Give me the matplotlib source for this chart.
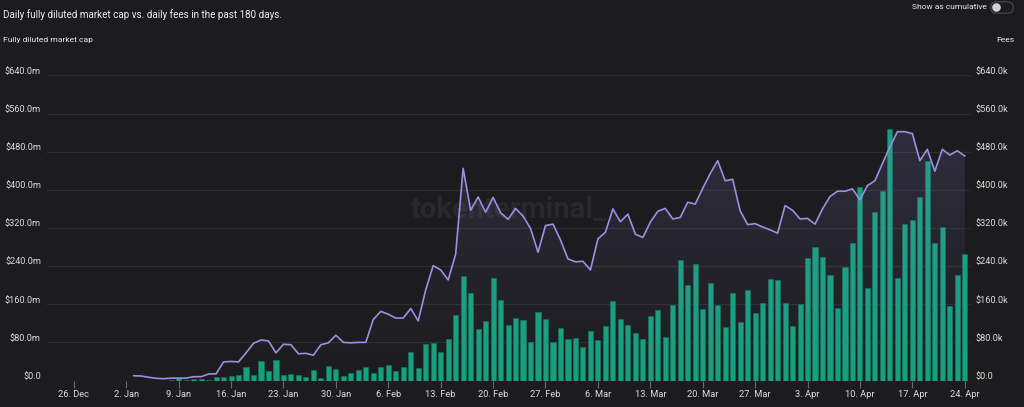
import numpy as np
import pandas as pd
import matplotlib
matplotlib.use("Agg")
import matplotlib.pyplot as plt
import matplotlib.dates as mdates
from matplotlib.patches import FancyBboxPatch, Circle
from matplotlib.transforms import ScaledTranslation

plt.rcParams['font.family'] = ['Roboto', 'DejaVu Sans']

## Data: daily values, 3 Jan 2023 -> 24 Apr 2023
start_date = '2023-01-03'
market_cap_m = [10, 9.4, 6.7, 4.6, 3.8, 5, 5, 5, 8, 8,
                13.6, 14, 39, 40, 39, 58, 78, 85, 83, 58,
                76, 75, 56, 57, 53, 75, 79, 95, 80, 79,
                80, 80, 128, 145, 139, 131, 131, 151, 125, 190,
                241, 232, 211, 265, 445, 357, 385, 353, 384, 352,
                338, 361, 345, 319, 269, 325, 328, 295, 255, 249,
                250, 232, 297, 311, 360, 333, 349, 307, 300, 332,
                355, 361, 339, 342, 374, 370, 403, 434, 461, 419,
                422, 356, 327, 329, 322, 316, 309, 367, 357, 339,
                340, 328, 360, 386, 397, 397, 402, 379, 409, 419,
                455, 490, 522, 522, 518, 461, 485, 439, 485, 473,
                482, 471]
fees_k = [0, 0, 0, 0, 0, 2, 4.6, 2, 3, 3.4,
          1.5, 6.7, 8, 9.4, 12, 27.5, 10.5, 40, 20.5, 44,
          10.5, 13.5, 12, 7.5, 22, 4.6, 31, 24, 10, 15.7,
          21, 28, 15.7, 27.7, 32, 20, 28, 59, 25.6, 76,
          79, 59, 87, 137, 220, 184, 108, 125, 216, 169,
          116, 132, 127, 80, 143, 130, 81, 111, 88, 90,
          71, 104, 86, 115, 167, 130, 116, 99, 87, 136,
          148, 90.6, 158, 253, 200, 244, 150, 205, 158, 112,
          184, 122, 189, 141.5, 163, 213, 211, 162, 114, 160,
          257, 281, 259, 221, 153, 238, 289, 406, 193, 354,
          397, 527, 214, 329, 336, 385, 460, 288, 321, 156,
          221, 265]
y_ticks = [0, 80, 160, 240, 320, 400, 480, 560, 640]
x_tick_start = '2022-12-26'
n_x_ticks = 18

dates = pd.date_range(start_date, periods=len(market_cap_m), freq='D')
xd = mdates.date2num(dates.to_pydatetime())
cap = np.array(market_cap_m)
fees = np.array(fees_k)

## Colours
bg = '#1c1c1e'
grid_c = '#2d2d30'
txt_c = '#dcdcdc'
line_c = '#9b8fe3'
bar_c = '#17a07e'

fig = plt.figure(figsize=(10.24, 4.07), dpi=100)
fig.patch.set_facecolor(bg)

# fees axis (primary, right labels) ; market cap axis on top (left labels)
ax = fig.add_axes([47/1024, 1-380.5/407, (971-47)/1024, (380.5-75.4)/407])
ax.set_facecolor(bg)
ax2 = ax.twinx()
ax2.patch.set_visible(False)

x0 = mdates.date2num(pd.Timestamp('2022-12-22 10:00'))
x1 = mdates.date2num(pd.Timestamp('2023-04-24 20:00'))
for a in (ax, ax2):
    a.set_xlim(x0, x1)
    a.set_ylim(0, 640)
    for s in a.spines.values():
        s.set_visible(False)
    a.set_yticks([])

for v in y_ticks:
    ax.axhline(v, color=grid_c, lw=0.9, zorder=0)

# watermark
ax.text(0.5, 0.56, 'tokenterminal_', transform=ax.transAxes, ha='center', va='center',
        fontsize=21, fontweight='bold', color='#29292c', zorder=0.5)

ax.bar(xd, fees, width=0.68, color=bar_c, edgecolor='#13795f', linewidth=0.4, zorder=2)

# gradient fill under the market cap line (drawn over the bars)
poly = ax2.fill_between(xd, cap, 0, color='none', lw=0)
grad = np.zeros((256, 1, 4))
grad[:, 0, :3] = matplotlib.colors.to_rgb('#8f84d8')
grad[:, 0, 3] = np.linspace(0.17, 0.0, 256)
im = ax2.imshow(grad, extent=[xd[0], xd[-1], 0, cap.max()], aspect='auto',
                origin='upper', zorder=3, interpolation='bilinear')
im.set_clip_path(poly.get_paths()[0], transform=ax2.transData)
ax2.plot(xd, cap, color=line_c, lw=1.2, zorder=4)
ax2.set_xlim(x0, x1)
ax2.set_ylim(0, 640)

# x ticks
tick_dates = pd.date_range(x_tick_start, periods=n_x_ticks, freq='7D')
ax.set_xticks(mdates.date2num(tick_dates.to_pydatetime()))
ax.set_xticklabels([f"{d.day}. {d.strftime('%b')}" for d in tick_dates])
ax.tick_params(axis='x', length=5, width=0.8, color='#6a6a6e', pad=2,
               labelsize=6.7, labelcolor=txt_c)
ax2.tick_params(axis='x', length=0, labelbottom=False)

# y labels, sitting slightly above grid lines
off = ScaledTranslation(0, 4/100, fig.dpi_scale_trans)
for v in y_ticks:
    lab_l = f"${v:.1f}m" if v else "$0.0"
    lab_r = f"${v:.1f}k" if v else "$0.0"
    ax.text(-6/924, v, lab_l, transform=ax.get_yaxis_transform() + off,
            ha='right', va='center', fontsize=6.6, color=txt_c)
    ax.text(1 + 5/924, v, lab_r, transform=ax.get_yaxis_transform() + off,
            ha='left', va='center', fontsize=6.6, color=txt_c)

# header texts
fig.text(3/1024, 1-15/407, 'Daily fully diluted market cap vs. daily fees in the past 180 days.',
         ha='left', va='center', fontsize=7.1, color='#ececec')
fig.text(3/1024, 1-40/407, 'Fully diluted market cap', ha='left', va='center',
         fontsize=6.1, color='#ececec')
fig.text(1014/1024, 1-40/407, 'Fees', ha='right', va='center', fontsize=6.1, color='#ececec')
fig.text(987/1024, 1-7/407, 'Show as cumulative', ha='right', va='center',
         fontsize=6.0, color='#ececec')

# toggle switch, drawn in a small pixel-scaled axes
tax = fig.add_axes([990/1024, 1-14/407, 24/1024, 13/407])
tax.set_xlim(0, 24)
tax.set_ylim(0, 13)
tax.axis('off')
tax.add_patch(FancyBboxPatch((0.8, 0.8), 22.4, 11.4, boxstyle='round,pad=0,rounding_size=5.7',
                             facecolor=bg, edgecolor='#4a4a4e', lw=0.8))
tax.add_patch(Circle((6.5, 6.5), 4.3, facecolor='#d0d0d0', edgecolor='none'))

fig.savefig('out.png', dpi=100, facecolor=bg)
